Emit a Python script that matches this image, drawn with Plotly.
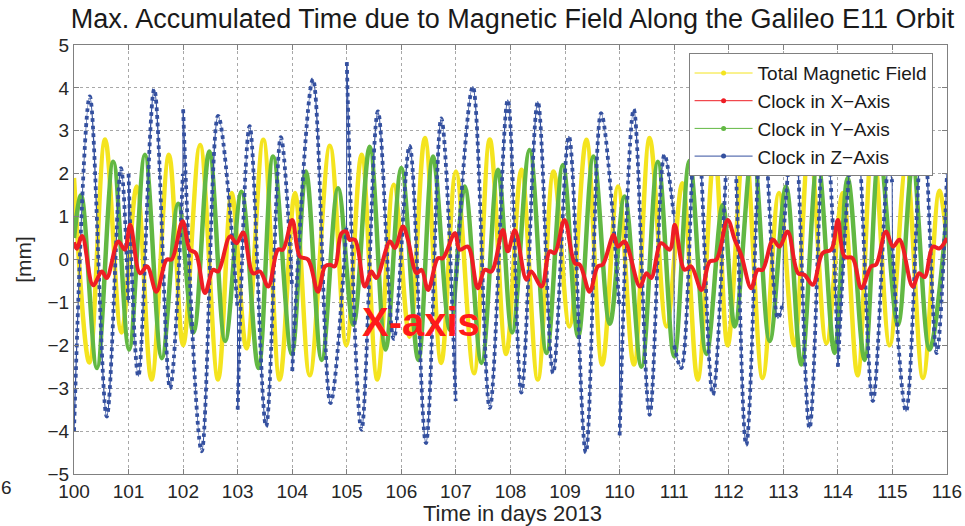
import plotly.graph_objects as go

# ---------------- data ----------------
# (day of 2013, accumulated value in mm) at the turning points of each curve
yellow_points = [
    (100.0, 1.9), (100.28, -2.4), (100.57, 2.8), (100.87, -1.7), (101.15, 1.7),
    (101.42, -2.8), (101.74, 2.44), (102.0, -2.0), (102.31, 2.67), (102.64, -2.8),
    (102.89, 1.55), (103.16, -2.07), (103.47, 2.79), (103.77, -2.8), (104.05, 1.55),
    (104.32, -2.7), (104.69, 2.65), (104.99, -2.0), (105.27, 2.44), (105.56, -2.8),
    (105.86, 1.74), (106.15, -1.8), (106.43, 2.83), (106.73, -2.41), (107.0, 2.05),
    (107.33, -2.65), (107.62, 2.8), (107.92, -2.2), (108.2, 2.09), (108.5, -2.8),
    (108.79, 2.05), (109.08, -1.56), (109.39, 2.79), (109.68, -2.45), (109.97, 1.7),
    (110.26, -2.45), (110.55, 2.83), (110.86, -1.56), (111.15, 1.78), (111.43, -2.8),
    (111.74, 2.55), (111.98, -2.0), (112.29, 2.8), (112.62, -2.76), (112.92, 1.55),
    (113.2, -2.0), (113.48, 2.8), (113.79, -1.95), (114.09, 1.55), (114.36, -2.7),
    (114.64, 2.8), (114.95, -2.0), (115.25, 2.2), (115.56, -2.76), (115.86, 1.6),
    (116.0, 0.4),
]

green_points = [
    (100.0, 0.5), (100.13, 1.5), (100.42, -2.53), (100.72, 2.28), (101.01, -2.1),
    (101.30, 2.44), (101.61, -2.3), (101.91, 1.3), (102.19, -1.7), (102.48, 2.52),
    (102.77, -1.9), (103.07, 1.58), (103.38, -2.53), (103.65, 2.4), (103.99, -2.2),
    (104.25, 2.05), (104.54, -2.34), (104.84, 1.66), (105.12, -1.52), (105.42, 2.63),
    (105.71, -2.1), (106.0, 2.13), (106.31, -2.34), (106.58, 2.4), (106.89, -1.64),
    (107.16, 1.7), (107.47, -2.41), (107.77, 2.09), (108.03, -1.7), (108.35, 2.55),
    (108.66, -2.18), (108.96, 2.2), (109.24, -1.8), (109.52, 2.4), (109.82, -1.5),
    (110.09, 1.47), (110.4, -2.5), (110.7, 2.28), (111.0, -2.26), (111.28, 2.3),
    (111.59, -2.2), (111.89, 1.27), (112.11, -1.56), (112.44, 2.6), (112.75, -1.9),
    (113.05, 1.7), (113.33, -2.45), (113.63, 2.3), (113.94, -2.18), (114.18, 1.9),
    (114.49, -2.34), (114.76, 2.5), (115.1, -1.52), (115.37, 2.2), (115.68, -2.1),
    (116.0, 1.1),
]

red_points = [
    (100.0, 0.4), (100.05, 0.25), (100.15, 0.55), (100.35, -0.6), (100.51, -0.28),
    (100.6, -0.43), (100.81, 0.42), (100.93, 0.23), (101.03, 0.81), (101.21, -0.32),
    (101.34, -0.16), (101.51, -0.75), (101.7, 0.0), (101.79, 0.0), (101.99, 0.89),
    (102.12, 0.23), (102.23, 0.15), (102.4, -0.78), (102.55, -0.24), (102.64, -0.28),
    (102.86, 0.54), (102.98, 0.38), (103.1, 0.63), (103.28, -0.32), (103.41, -0.28),
    (103.56, -0.63), (103.74, 0.23), (103.83, 0.23), (104.0, 0.92), (104.14, 0.07),
    (104.29, 0.0), (104.47, -0.75), (104.6, -0.16), (104.69, -0.12), (104.78, -0.16),
    (104.9, 0.61), (104.99, 0.65), (105.05, 0.46), (105.15, 0.46), (105.33, -0.63),
    (105.45, -0.28), (105.54, -0.43), (105.79, 0.42), (105.88, 0.27), (106.03, 0.77),
    (106.12, 0.46), (106.28, -0.32), (106.37, -0.24), (106.49, -0.71), (106.67, 0.03),
    (106.76, 0.03), (106.98, 0.61), (107.07, 0.23), (107.22, 0.3), (107.4, -0.67),
    (107.53, -0.24), (107.65, -0.28), (107.86, 0.69), (107.95, 0.19), (108.08, 0.68),
    (108.29, -0.47), (108.38, -0.28), (108.57, -0.63), (108.72, 0.19), (108.81, 0.15),
    (108.99, 0.92), (109.18, -0.09), (109.27, -0.12), (109.45, -0.75), (109.6, -0.16),
    (109.69, -0.12), (109.89, 0.57), (109.97, 0.3), (110.09, 0.42), (110.37, -0.63),
    (110.49, -0.32), (110.58, -0.43), (110.76, 0.38), (110.92, 0.23), (111.01, 0.81),
    (111.19, -0.24), (111.31, -0.16), (111.5, -0.71), (111.65, -0.05), (111.77, -0.01),
    (111.98, 0.92), (112.11, 0.46), (112.23, 0.1), (112.41, -0.67), (112.53, -0.24),
    (112.62, -0.24), (112.81, 0.46), (112.93, 0.3), (113.08, 0.65), (113.27, -0.32),
    (113.39, -0.36), (113.54, -0.59), (113.72, 0.15), (113.88, 0.23), (114.0, 0.92),
    (114.12, 0.07), (114.27, 0.03), (114.43, -0.67), (114.61, -0.16), (114.7, -0.12),
    (114.88, 0.65), (115.01, 0.3), (115.13, 0.46), (115.37, -0.63), (115.49, -0.32),
    (115.59, -0.41), (115.74, 0.3), (115.86, 0.26), (116.0, 0.5),
]

# Z-axis clock: one list per daily segment (the curve jumps at day boundaries)
blue_segments = [
    [(100.0, -4.0), (100.29, 3.8), (100.6, -3.66), (100.86, 2.13), (100.995, -1.0)],
    [(101.0, 2.0), (101.18, -2.72), (101.47, 3.97), (101.76, -3.0), (101.995, 2.0)],
    [(102.0, 3.5), (102.34, -4.47), (102.64, 3.35), (102.995, -1.1)],
    [(103.0, -3.5), (103.22, 3.11), (103.52, -3.89), (103.79, 2.85), (103.995, -0.6)],
    [(104.0, -2.6), (104.38, 4.2), (104.7, -3.35), (104.995, 0.8)],
    [(105.0, 4.6), (105.27, -3.97), (105.57, 3.45), (105.86, -1.85), (106.15, 2.65),
     (106.45, -4.28), (106.73, 3.29), (106.995, -3.3)],
    [(107.0, -0.5), (107.31, 4.03), (107.62, -3.46), (107.95, 3.72), (108.2, -3.1),
     (108.5, 3.68), (108.78, -2.65), (109.07, 2.87), (109.38, -4.5), (109.66, 3.41),
     (109.995, -1.1)],
    [(110.0, -4.1), (110.26, 3.5), (110.55, -3.62), (110.82, 2.44), (110.995, 1.0)],
    [(111.0, -2.0), (111.13, -2.53), (111.41, 3.5), (111.71, -3.15), (112.05, 3.6),
     (112.32, -4.32), (112.62, 3.4), (112.9, -1.37), (112.995, -1.0)],
    [(113.0, 0.5), (113.2, 3.2), (113.48, -3.93), (113.76, 3.4), (113.995, -2.0)],
    [(114.0, -2.5), (114.33, 3.3), (114.64, -3.3), (114.93, 2.17), (114.995, 1.8)],
    [(115.0, 0.3), (115.25, -3.54), (115.56, 3.2), (115.81, -2.18), (116.0, 2.0)],
]

legend_names = ["Total Magnetic Field", "Clock in X\u2212Axis",
                "Clock in Y\u2212Axis", "Clock in Z\u2212Axis"]
x_ticks = list(range(100, 117))
y_ticks = list(range(-5, 6))

# ---------------- styling ----------------
YELLOW = "#f4e41f"
RED = "#ee1d24"
GREEN = "#62b843"
BLUE = "#34509f"
FONT = "Liberation Sans, Arial, sans-serif"


def split(points):
    return [p[0] for p in points], [p[1] for p in points]


fig = go.Figure()

yx, yy = split(yellow_points)
fig.add_trace(go.Scatter(x=yx, y=yy, mode="lines", showlegend=False,
                         line=dict(color=YELLOW, width=4.5, shape="spline")))

gx, gy = split(green_points)
fig.add_trace(go.Scatter(x=gx, y=gy, mode="lines", showlegend=False,
                         line=dict(color=GREEN, width=4.5, shape="spline")))

# blue: segments separated by gaps, thin connector at each jump
bx, by = [], []
jx, jy = [], []
for i, seg in enumerate(blue_segments):
    sx, sy = split(seg)
    bx += sx + [None]
    by += sy + [None]
    if i + 1 < len(blue_segments):
        nxt = blue_segments[i + 1][0]
        jx += [seg[-1][0], nxt[0], None]
        jy += [seg[-1][1], nxt[1], None]

fig.add_trace(go.Scatter(x=bx, y=by, mode="lines", showlegend=False,
                         line=dict(color=BLUE, width=1.2, shape="spline")))
fig.add_trace(go.Scatter(x=bx, y=by, mode="lines", showlegend=False,
                         line=dict(color=BLUE, width=3.8, dash="dot", shape="spline")))
fig.add_trace(go.Scatter(x=jx, y=jy, mode="lines", showlegend=False,
                         line=dict(color=BLUE, width=1)))

rx, ry = split(red_points)
fig.add_trace(go.Scatter(x=rx, y=ry, mode="lines", showlegend=False,
                         line=dict(color=RED, width=4, shape="spline")))

# legend entries (thin line with a dot, as in the original)
for name, col in zip(legend_names, [YELLOW, RED, GREEN, BLUE]):
    fig.add_trace(go.Scatter(x=[None], y=[None], mode="lines+markers", name=name,
                             line=dict(color=col, width=1),
                             marker=dict(color=col, size=5)))

axis_common = dict(
    showgrid=True, gridcolor="#a8a8a8", griddash="dot", gridwidth=1,
    zeroline=False, showline=True, linecolor="#808080", linewidth=1,
    mirror="ticks", ticks="inside", ticklen=5, tickcolor="#808080",
    tickfont=dict(family=FONT, size=19, color="#262626"),
    automargin=False,
)

fig.update_layout(
    width=965, height=526,
    margin=dict(l=74, r=18, t=45, b=52),
    paper_bgcolor="white", plot_bgcolor="white",
    title=dict(text="Max. Accumulated Time due to Magnetic Field Along the Galileo E11 Orbit",
               x=0.531, xref="container", xanchor="center",
               y=1 - 19 / 526, yref="container", yanchor="middle",
               automargin=False,
               font=dict(family=FONT, size=27, color="#1a1a1a")),
    xaxis=dict(range=[100, 116], tickvals=x_ticks, ticktext=[str(v) for v in x_ticks],
               ticklabelstandoff=0, **axis_common),
    yaxis=dict(range=[-5, 5], tickvals=y_ticks,
               title=dict(text="[mm]", standoff=10,
                          font=dict(family=FONT, size=21, color="#262626")),
               **axis_common),
    legend=dict(x=0.704, y=0.981, xanchor="left", yanchor="top",
                bgcolor="white", bordercolor="#808080", borderwidth=1,
                font=dict(family=FONT, size=19, color="#1a1a1a"),
                itemwidth=58, tracegroupgap=0),
    annotations=[
        dict(text="Time in days 2013", x=0.502, y=1 - (513 - 45) / 429,
             xref="paper", yref="paper", xanchor="center", yanchor="middle",
             showarrow=False, font=dict(family=FONT, size=22, color="#262626")),
        dict(text="<b>X-axis</b>", x=0.398, y=0.354, xref="paper", yref="paper",
             xanchor="center", yanchor="middle", showarrow=False,
             font=dict(family=FONT, size=40, color="#ff1a1a")),
        dict(text="6", x=-0.0775, y=-0.0326, xref="paper", yref="paper",
             xanchor="center", yanchor="middle", showarrow=False,
             font=dict(family=FONT, size=19, color="#262626")),
    ],
)

fig.write_html("out.html")
